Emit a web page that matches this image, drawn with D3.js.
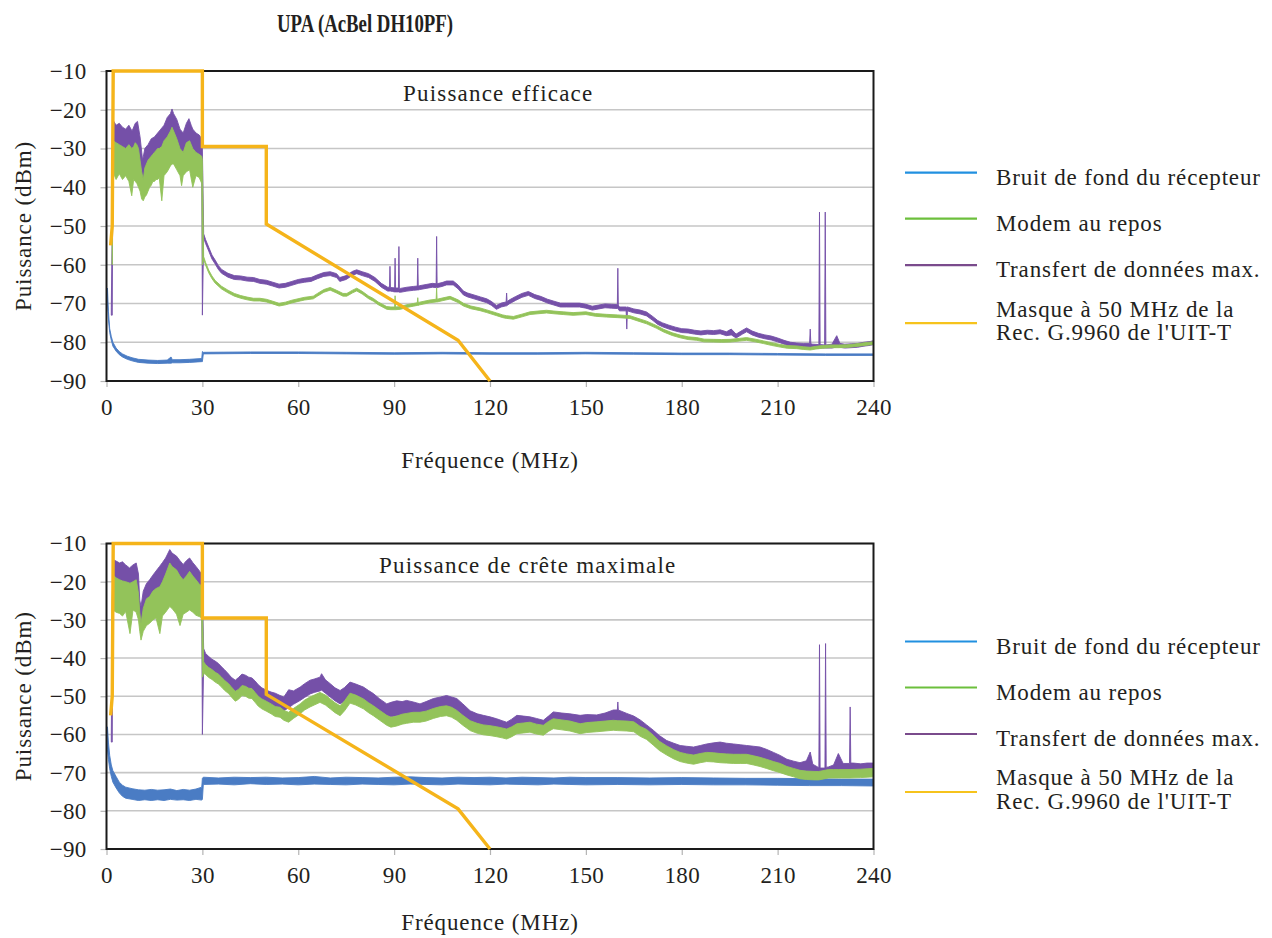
<!DOCTYPE html>
<html>
<head>
<meta charset="utf-8">
<script src="https://cdn.jsdelivr.net/npm/d3@7"></script>
<style>
  body { margin: 0; background: #fff; }
</style>
</head>
<body>
<svg id="chart" width="1272" height="938"></svg>
<script>
// ---- data ----
const xTicks = [0, 30, 60, 90, 120, 150, 180, 210, 240];
const yTicks = [-10, -20, -30, -40, -50, -60, -70, -80, -90];

const chartTitle = 'UPA (AcBel DH10PF)';
const panelTitles = ['Puissance efficace', 'Puissance de crête maximale'];
const xLabel = 'Fréquence (MHz)';
const yLabel = 'Puissance (dBm)';
const legendLabels = [
  ['Bruit de fond du récepteur'],
  ['Modem au repos'],
  ['Transfert de données max.'],
  ['Masque à 50 MHz de la', "Rec. G.9960 de l'UIT-T"]
];

// G.9960 mask: [MHz, dBm]
const mask = [[1.3, -55], [1.8, -50], [2.1, -10], [30, -10], [30, -29.5], [50, -29.5], [50, -49.5], [110, -79.5], [120, -90]];

// traces as [MHz, low dBm, high dBm] (the spread is the visible noise of the trace)
const rmsNoise = [
  [0.3, -70, -66], [0.6, -74, -72], [1, -77.5, -76.5], [1.5, -79.5, -78.5], [2, -81, -80], [3, -82.3, -81.5],
  [4, -83.2, -82.4], [5, -83.8, -83], [6.5, -84.4, -83.6], [8, -84.8, -84], [10, -85.2, -84.4], [13, -85.4, -84.6],
  [16, -85.5, -84.7], [19, -85.4, -84.6], [20.2, -85.4, -83.8], [20.6, -85.3, -84.5], [23, -85.3, -84.5],
  [26, -85.2, -84.4], [29.8, -85, -84.2], [30, -85, -82.4], [30.3, -83, -82.6], [45, -82.9, -82.5], [60, -82.9, -82.5],
  [75, -83, -82.6], [90, -83.1, -82.7], [105, -83, -82.6], [120, -83.1, -82.7], [135, -83.1, -82.7], [150, -83, -82.6],
  [165, -83.1, -82.7], [180, -83.2, -82.8], [195, -83.2, -82.8], [210, -83.3, -82.9], [225, -83.4, -83], [240, -83.4, -83]
];

const rmsIdle = [
  [1.8, -60, -55], [1.95, -45, -28], [2, -36, -28], [3, -38, -28.5], [4, -36.5, -29], [5, -38, -29.5], [6, -37, -30],
  [7, -38.5, -29], [7.9, -42.2, -30], [8.5, -38, -29.5], [9, -38.5, -28.5], [9.5, -39, -29], [10, -40, -30],
  [10.5, -41, -33], [11, -43, -36], [11.5, -43.5, -38], [12, -42.5, -35], [12.5, -42, -34], [13, -41, -33],
  [13.5, -40, -32.5], [14, -39.5, -32], [14.5, -38.5, -31.5], [15, -38.5, -31], [15.5, -38, -30.5], [16, -38, -30],
  [16.5, -37.5, -30], [17.3, -43.5, -29.5], [18, -37, -28], [19, -36, -27], [20, -34.5, -25.5], [20.5, -34, -24.5],
  [21, -34, -25.5], [22, -35.5, -27.5], [23, -37, -30], [23.5, -39.6, -30.5], [24, -37, -31], [25, -36, -28.5],
  [26, -35.5, -28], [27, -40, -30], [28, -37, -31], [29, -37.5, -31.5], [29.8, -39, -32], [30, -60, -33],
  [30.4, -58.6, -57.9], [31, -60.1, -59.4], [32, -62.1, -61.4], [33, -63.6, -62.9], [34, -64.75, -64.05],
  [36, -66.25, -65.55], [38, -67.25, -66.55], [40, -68.1, -67.4], [42, -68.65, -67.95], [44, -69.05, -68.35],
  [46, -69.35, -68.65], [48, -69.35, -68.65], [50, -69.6, -68.9], [52, -70.1, -69.4], [54, -70.65, -69.95],
  [56, -70.35, -69.65], [58, -69.85, -69.15], [60.6, -69.35, -68.65], [62, -69.1, -68.4], [64.7, -68.8, -68.1],
  [66, -68.1, -67.4], [68, -67.1, -66.4], [70, -66.55, -65.85], [72, -67.3, -66.6], [74, -68.1, -67.4],
  [75.2, -68.1, -67.4], [77, -67.25, -66.55], [78.3, -66.75, -66.05], [80, -67.55, -66.85], [82, -68.75, -68.05],
  [83.5, -69.4, -68.7], [85, -70.3, -69.6], [87.7, -71.5, -70.8], [89, -71.6, -70.9], [90.15, -71.6, -70.9],
  [90.3, -71.6, -68], [90.45, -71.6, -70.9], [92, -71.5, -70.8], [94, -71, -70.3], [96, -70.7, -70],
  [97.25, -70.5, -69.8], [97.4, -70.5, -68.5], [97.55, -70.5, -69.8], [98, -70.35, -69.65], [100, -70, -69.3],
  [101.2, -69.8, -69.1], [103.15, -69.6, -68.9], [103.3, -69.6, -66], [103.45, -69.6, -68.9], [105, -69.3, -68.6],
  [107.5, -68.85, -68.15], [110, -69.75, -69.05], [111.7, -70.65, -69.95], [114, -71.35, -70.65],
  [116.9, -71.85, -71.15], [119, -72.35, -71.65], [122.1, -73.15, -72.45], [124, -73.65, -72.95],
  [125.2, -73.85, -73.15], [127.3, -74.05, -73.35], [130, -73.45, -72.75], [132.5, -72.85, -72.15],
  [135, -72.65, -71.95], [137.7, -72.45, -71.75], [140, -72.65, -71.95], [142.9, -72.85, -72.15],
  [146, -73.05, -72.35], [150, -72.85, -72.15], [153, -73.3, -72.6], [156.5, -73.5, -72.8], [160, -73.65, -72.95],
  [163.8, -73.85, -73.15], [166, -74.45, -73.75], [169, -75.25, -74.55], [172, -76.35, -75.65],
  [174.3, -77.35, -76.65], [177, -78.25, -77.55], [179.5, -78.85, -78.15], [182, -79.3, -78.6],
  [184.7, -79.5, -78.8], [187, -79.9, -79.2], [189.9, -79.95, -79.25], [192.5, -80, -79.3], [195.1, -79.95, -79.25],
  [198, -79.7, -79], [200.3, -79.5, -78.8], [203, -79.9, -79.2], [205.6, -80.35, -79.65], [208, -80.8, -80.1],
  [210.8, -81.25, -80.55], [213, -81.55, -80.85], [216, -81.65, -80.95], [218, -81.85, -81.15], [220.2, -82, -81.3],
  [222, -81.75, -81.05], [224, -81.55, -80.85], [226.4, -81.4, -80.7], [229, -81.4, -80.7], [231.6, -81.35, -80.65],
  [234, -81.15, -80.45], [236, -80.95, -80.25], [238, -80.75, -80.05], [240, -80.55, -79.85]
];

const rmsTransfer = [
  [1.5, -73, -71], [1.8, -73, -50], [1.95, -40, -23], [2, -31, -22.6], [3, -30, -24], [4, -31, -23.5],
  [5, -31.5, -24.5], [6, -32, -25], [7, -31, -24], [8, -32.5, -25.5], [9, -30.5, -23.5], [9.7, -30, -23],
  [10.5, -34, -27], [11.3, -40, -33], [12, -37, -30], [13, -36, -29], [14, -34.5, -27.5], [15, -34, -27],
  [16, -33, -26], [17, -32, -25], [18, -31, -24], [19, -29, -22], [20, -28, -21], [20.5, -27, -19.8], [21, -28, -21],
  [22, -29.5, -22.5], [23, -32, -25], [24, -33, -26], [25, -30.5, -23.5], [25.8, -29.5, -22.3], [26.5, -31, -24],
  [27, -32, -25], [28, -33, -26], [29, -33.5, -26.5], [29.8, -34, -27.5], [30, -73, -30], [30.4, -53, -52],
  [31, -54.5, -53.5], [32, -56.5, -55.5], [33, -58.5, -57.5], [34, -59.8, -58.8], [35, -61.2, -60.2],
  [36, -62.2, -61.2], [38, -63.2, -62.2], [40, -63.8, -62.8], [42, -63.9, -62.9], [44, -64.2, -63.2],
  [46, -64.3, -63.3], [48, -64.8, -63.8], [50, -65, -64], [52, -65.5, -64.5], [54, -66, -65], [56, -65.8, -64.8],
  [58, -65.3, -64.3], [60, -64.8, -63.8], [62, -64.5, -63.5], [64, -64.3, -63.3], [66, -63.6, -62.6], [68, -63, -62],
  [70, -62.8, -61.8], [72, -63.3, -62.3], [73, -64.3, -63.3], [75, -63.8, -62.8], [77, -62.7, -61.7],
  [78.3, -62.3, -61.3], [80, -62.8, -61.8], [82, -63.3, -62.3], [84, -64.3, -63.3], [86, -65.8, -64.8],
  [88, -66.8, -65.8], [88.55, -66.8, -65.8], [88.7, -66.8, -60.4], [88.85, -66.8, -65.9], [89.5, -66.9, -65.9],
  [90.15, -67, -66], [90.3, -67, -58.3], [90.45, -67, -66], [91.35, -67, -66], [91.5, -67, -55.3],
  [91.65, -67.1, -66.1], [92, -67.1, -66.1], [94, -66.8, -65.8], [96, -66.6, -65.6], [97.25, -66.5, -65.5],
  [97.4, -66.5, -58.3], [97.55, -66.5, -65.5], [98, -66.4, -65.4], [100, -66.1, -65.1], [102, -65.8, -64.8],
  [103.15, -65.9, -64.9], [103.3, -65.9, -52.7], [103.45, -65.9, -64.9], [105, -65.6, -64.6], [106.4, -65.2, -64.2],
  [108.5, -65.2, -64.2], [110, -66.2, -65.2], [111.7, -67.8, -66.8], [113, -68.3, -67.3], [115, -68.8, -67.8],
  [117, -69.3, -68.3], [119, -69.8, -68.8], [120.5, -70.5, -69.5], [122, -71.5, -70.5], [123.5, -70.9, -69.9],
  [125.05, -70.6, -69.6], [125.2, -70.6, -67.3], [125.35, -70.5, -69.5], [126, -70.1, -69.1], [128, -69.2, -68.2],
  [130, -68.4, -67.4], [132, -67.9, -66.9], [134, -68.7, -67.7], [136, -69.2, -68.2], [138, -69.9, -68.9],
  [140, -70.4, -69.4], [142, -70.9, -69.9], [144, -70.9, -69.9], [146, -70.9, -69.9], [148, -70.9, -69.9],
  [150, -71.2, -70.2], [152, -71.7, -70.7], [154, -71.4, -70.4], [156, -71.1, -70.1], [158, -71.2, -70.2],
  [159.85, -71.3, -70.3], [160, -71.3, -60.9], [160.15, -71.4, -70.4], [160.5, -71.9, -70.9], [162.6, -71.9, -70.9],
  [162.8, -76.6, -71], [163, -71.9, -70.9], [165, -72.4, -71.4], [167, -72.7, -71.7], [169, -73.2, -72.2],
  [171, -74.4, -73.4], [172.5, -75.4, -74.4], [174, -76, -75], [176, -76.6, -75.6], [178, -77.1, -76.1],
  [180, -77.5, -76.5], [182, -77.6, -76.6], [184, -77.9, -76.9], [186, -78.1, -77.1], [188, -77.9, -76.9],
  [190, -78, -77], [192, -77.8, -76.8], [194, -78.3, -77.3], [195.5, -78.1, -76.6], [197, -78.9, -77.9],
  [199, -77.9, -76.9], [200.3, -77.3, -76.3], [202, -78.1, -77.1], [204, -78.7, -77.7], [206, -79.1, -78.1],
  [208, -79.4, -78.4], [210, -79.9, -78.9], [212, -80.5, -79.5], [214, -81, -80], [216, -81.2, -80.2],
  [218, -81.3, -80.3], [220, -81.3, -80.3], [220.2, -81.3, -76.6], [220.4, -81.4, -80.4], [221, -81.5, -80.5],
  [222.9, -81.6, -80.6], [223.1, -81.5, -46.4], [223.3, -81.5, -80.6], [224.7, -81.5, -80.7], [224.9, -81.5, -46.4],
  [225.1, -81.5, -80.7], [227, -81.5, -80.5], [228.5, -81.2, -78.3], [229.5, -81.3, -80.3], [231, -81.5, -80.5],
  [233, -81.4, -80.4], [235, -81.3, -80.3], [237, -81, -80], [239, -80.8, -79.8], [240, -80.6, -79.6]
];

const peakNoise = [
  [0.3, -64, -58], [0.6, -66.5, -62], [1, -69, -65.5], [1.5, -71, -68], [2, -72.5, -69.5], [3, -74, -71],
  [4, -75.3, -72.5], [5, -76.2, -73.3], [6, -76.7, -73.8], [8, -77, -74.2], [10, -77.3, -74.5], [12, -77.1, -74.6],
  [14, -77.3, -74.4], [16, -77.1, -74.6], [18, -77.3, -74.5], [20, -77, -74.3], [22, -77.2, -74.7], [24, -77.1, -74.4],
  [26, -77.3, -74.6], [28, -77, -74.3], [29.8, -77.2, -73.8], [30, -77, -71.5], [30.3, -73.1, -71.2], [35, -73, -71.4],
  [40, -73.2, -71.2], [45, -72.9, -71.3], [50, -73.1, -71.2], [55, -73, -71.4], [60, -73.2, -71.3], [65, -73, -71],
  [70, -73.1, -71.4], [75, -73.2, -71.2], [80, -73, -71.3], [85, -73.1, -71.4], [90, -73.2, -71.2], [95, -73, -71.1],
  [100, -73.1, -71.3], [105, -73.2, -71.4], [110, -73, -71.2], [115, -73.1, -71.3], [120, -73.2, -71.2],
  [125, -73, -71.4], [130, -73.1, -71.2], [135, -73.2, -71.3], [140, -73, -71.4], [145, -73.1, -71.2],
  [150, -73.2, -71.3], [160, -73.1, -71.3], [170, -73.2, -71.4], [180, -73.1, -71.3], [190, -73.2, -71.4],
  [200, -73.2, -71.5], [210, -73.3, -71.5], [220, -73.4, -71.6], [230, -73.4, -71.7], [240, -73.5, -71.7]
];

const peakIdle = [
  [1.8, -40, -25], [2, -27.4, -18.2], [3, -28, -19], [4.1, -28.3, -19.5], [5, -29, -19.8], [6, -27.8, -20],
  [7.35, -33.6, -20.4], [8.3, -27.4, -20], [9.3, -28, -19.5], [10, -30, -23], [10.4, -33, -28], [10.8, -35.3, -30.9],
  [11.5, -33, -27], [12.5, -31.5, -24.5], [13.5, -30.9, -23.9], [14.5, -30, -22.5], [15.5, -29.5, -21.8],
  [16.7, -33.6, -21.3], [17.5, -29, -20], [18.5, -28, -18], [19.8, -26.5, -15.1], [20.5, -27, -16], [21.9, -28.5, -16.9],
  [23, -31.5, -18.5], [24, -28.5, -19.5], [25, -28, -18.5], [26, -27.4, -17.3], [27, -28, -18.5], [28, -28.8, -19.5],
  [29.2, -29.2, -20.8], [29.8, -29.5, -21], [30, -45, -25], [30.4, -44, -41], [31, -44.3, -41.7], [32, -45.1, -42.5],
  [33, -45.6, -43], [34, -46.3, -43.7], [35, -46.8, -44.2], [36, -47.6, -45], [37, -48.5, -45.9], [38.2, -49.3, -46.7],
  [39, -50.1, -47.5], [40.3, -51.3, -48.7], [41.3, -50.8, -48.2], [42.4, -49.8, -47.2], [43.5, -50, -47.4],
  [44.5, -50.5, -47.9], [45.5, -50.6, -48], [46.5, -51.6, -49], [47.5, -52.6, -50], [48.6, -53.3, -50.7],
  [50, -53.9, -51.3], [51.5, -54.6, -52], [52.8, -55.3, -52.7], [54.3, -55.5, -52.9], [55.5, -56.3, -53.7],
  [57, -56.8, -54.2], [58.5, -55.8, -53.2], [60.6, -54.6, -52], [62, -53.6, -51], [63.7, -52.8, -50.2],
  [65, -52.3, -49.7], [66.8, -51.6, -49], [68.5, -52.3, -49.7], [70, -53.3, -50.7], [71.5, -54.3, -51.7],
  [73.1, -55.1, -52.5], [74.5, -53.8, -51.2], [76.2, -51.8, -49.2], [78, -52.3, -49.7], [80.4, -53.3, -50.7],
  [82, -54.3, -51.7], [83.5, -55.1, -52.5], [85.5, -56.3, -53.7], [87.7, -57.6, -55], [89, -58.1, -55.5],
  [90.8, -57.8, -55.2], [92.5, -57.3, -54.7], [93.9, -57.1, -54.5], [96, -56.8, -54.2], [98.1, -56.8, -54.2],
  [100, -56.5, -53.9], [102.3, -55.8, -53.2], [104.5, -55.3, -52.7], [106.4, -55.1, -52.5], [108, -55.5, -52.9],
  [109.6, -56.3, -53.7], [111.5, -57.6, -55], [113.8, -59, -56.4], [116, -59.7, -57.1], [117.9, -60.1, -57.5],
  [120, -60.3, -57.7], [122.1, -60.6, -58], [123.8, -60.9, -58.3], [125.2, -61.2, -58.6], [126.8, -60.6, -58],
  [128.4, -59.8, -57.2], [130.5, -59.6, -57], [132.5, -59.4, -56.8], [134.5, -59.9, -57.3], [136.7, -60.2, -57.6],
  [138.3, -59.2, -56.6], [139.8, -58.5, -55.9], [142.5, -58.8, -56.2], [145, -59.1, -56.5], [148.2, -59.8, -57.2],
  [150.3, -59.5, -56.9], [153.4, -59.3, -56.7], [156, -59.1, -56.5], [158.6, -58.9, -56.3], [160, -59, -56.4],
  [162.8, -59.1, -56.5], [165, -59.3, -56.7], [167, -60.5, -57.9], [169, -61.3, -58.7], [171.1, -62.8, -60.2],
  [173, -64.2, -61.8], [175.3, -65.4, -63], [177.5, -66.4, -64], [179.5, -67.1, -64.7], [181.5, -67.5, -65.1],
  [183.7, -67.8, -65.4], [185.8, -67.4, -65], [187.8, -67.1, -64.7], [190, -67.2, -64.8], [192, -67.4, -65],
  [194, -67.5, -65.1], [196.2, -67.6, -65.2], [198.3, -67.6, -65.2], [200.3, -67.6, -65.2], [202.5, -68, -65.6],
  [204.5, -68.4, -66], [206.5, -68.9, -66.5], [208.7, -69.5, -67.1], [210.8, -70, -67.6], [212.9, -70.6, -68.4],
  [215, -71.1, -68.9], [217, -71.6, -69.4], [219, -71.8, -69.6], [221.7, -71.9, -69.7], [222.9, -71.9, -69.7],
  [225.9, -71.4, -69.2], [227.5, -71.4, -69.2], [229, -71.4, -69.2], [232.7, -71.4, -69.2], [236, -71.3, -69.1],
  [238, -71.2, -69], [240, -71.1, -68.9]
];

const peakTransfer = [
  [1.5, -62, -60], [1.8, -62, -30], [1.95, -30, -14.5], [2, -22, -14.2], [3, -22.5, -14.6], [4.1, -23, -15.1],
  [5, -23, -14.8], [6, -24, -15.6], [7.2, -24.5, -16.4], [8.3, -24, -15.6], [9.3, -23, -15.1], [10, -27, -18],
  [10.4, -31, -24.8], [10.8, -33, -26.5], [11.5, -30, -22.5], [12.5, -28, -20.5], [13.5, -27, -19.5],
  [14.5, -26, -18.3], [15.5, -25, -17.2], [16.6, -24, -16], [17.5, -23, -15], [18.5, -22, -13.8], [19.8, -20, -11.6],
  [20.5, -21, -12.5], [21.9, -22, -13.3], [23, -23, -14.5], [24, -24, -15.5], [25, -23, -14.5], [26, -22, -13.8],
  [27, -23, -15], [28, -24.5, -16], [29.2, -25.5, -17.3], [29.8, -26, -18], [30, -60, -22], [30.4, -42, -37.5],
  [31, -42.3, -38.8], [32, -43.2, -39.6], [33, -43.6, -40.3], [34, -44.3, -40.8], [35, -45, -41.4], [36, -45.7, -42.3],
  [37, -46.8, -43.1], [38.2, -47.6, -44.2], [39, -48.5, -45], [40.3, -49.3, -45.8], [41.3, -48.8, -45.1],
  [42.4, -47.7, -44.2], [43.5, -48.1, -44.5], [44.5, -48.5, -45], [45.5, -48.8, -45.2], [46.5, -49.6, -46],
  [47.5, -50.5, -47], [48.6, -51.4, -47.8], [50, -51.9, -48.4], [51.5, -52.5, -48.9], [52.8, -52.8, -49.2],
  [54.3, -53.3, -49.8], [55.5, -53.8, -50.2], [57, -53, -48.3], [58.5, -52.1, -48.6], [60.6, -51.1, -47.6],
  [62, -50.3, -46.7], [63.7, -49.4, -45.8], [65, -49, -45.5], [66.8, -48.6, -45], [67.3, -48.4, -44.1],
  [68.5, -49.2, -45.7], [70, -50.2, -46.7], [71.5, -51.2, -47.8], [73.1, -52, -48.5], [74.5, -51.3, -47.7],
  [76.2, -49.9, -46.3], [78, -50.3, -46.8], [80.4, -51.1, -47.6], [82, -52, -48.5], [83.5, -52.8, -49.3],
  [85.5, -54.2, -50.7], [87.7, -55.5, -52], [89, -55.4, -51.6], [90.8, -55.1, -51.2], [92.5, -54.9, -51.4],
  [93.9, -54.6, -51.1], [96, -55, -51.5], [98.1, -55.5, -52], [100, -54.9, -51.4], [102.3, -54.1, -50.6],
  [104.5, -53.7, -50.2], [106.4, -53.3, -49.8], [108, -53.7, -50.2], [109.6, -54.1, -50.6], [111.5, -55.5, -52],
  [113.8, -57.2, -53.8], [116, -58, -54.6], [117.9, -58.5, -55], [120, -58.9, -55.4], [122.1, -59.4, -55.9],
  [123.8, -59.9, -56.4], [125.2, -60.3, -56.8], [126.8, -59.5, -56], [128.4, -58.5, -55], [130.5, -58.7, -55.2],
  [132.5, -58.9, -55.4], [134.5, -59.3, -55.8], [136.7, -59.8, -56.3], [138.3, -58.7, -55.2], [139.8, -57.6, -54.1],
  [142.5, -57.9, -54.4], [145, -58.1, -54.6], [148.2, -58.5, -55], [150.3, -58.3, -54.8], [153.4, -58.4, -54.9],
  [156, -57.9, -54.4], [158.6, -57.1, -53.6], [159.85, -57, -53.6], [160, -57, -51.5], [160.15, -57, -53.6],
  [162.8, -58, -54.5], [165, -58.7, -55.2], [167, -59.7, -56.2], [169, -61, -57.5], [171.1, -62.4, -58.9],
  [173, -63.6, -60.3], [175.3, -64.9, -61.6], [177.5, -65.6, -62.3], [179.5, -66.2, -62.9], [181.5, -66.4, -63.1],
  [183.7, -66.6, -63.3], [185.8, -66.2, -62.9], [187.8, -65.8, -62.5], [190, -65.5, -62.2], [192, -65.3, -62],
  [194, -65.6, -62.3], [196.2, -65.8, -62.5], [198.3, -66, -62.7], [200.3, -66.2, -62.9], [202.5, -66.4, -63.1],
  [204.5, -66.6, -63.3], [206.5, -67.2, -63.9], [208.7, -68, -64.7], [210.8, -68.8, -65.5], [212.9, -69.6, -66.5],
  [215, -70.1, -67], [217, -70.5, -67.4], [219, -70.1, -66.9], [220.2, -70, -64.6], [221, -70.9, -67.8],
  [222.9, -71.3, -68.7], [223.1, -71.3, -36.5], [223.3, -71.3, -68.8], [224.8, -71.3, -68.8], [225, -71.3, -36.2],
  [225.2, -71.3, -68.6], [225.9, -71.3, -68.5], [227.5, -71, -68], [229, -70.5, -65], [230.5, -70.8, -67.6],
  [232.5, -70.6, -67.6], [232.7, -70.6, -52.8], [232.9, -70.6, -67.5], [233.7, -70.5, -67.5], [236, -70.7, -67.7],
  [238, -70.5, -67.5], [240, -70.5, -67.5]
];

// ---- styles ----
const serif = '"Liberation Serif", "Times New Roman", serif';
const textColor = '#231f20';
const plotColors = { noise: '#4a7cc4', idle: '#93c35a', transfer: '#7550a8', mask: '#f5b41a' };
const legendColors = ['#2190e0', '#6cbf3c', '#7a4b8c', '#f6c31c'];
const fontSize = 23;

const svg = d3.select('#chart');

function addText(parent) {
  return parent.append('text')
    .style('font-family', serif)
    .style('fill', textColor)
    .attr('font-size', fontSize);
}

addText(svg)
  .attr('x', 365)
  .attr('y', 32)
  .attr('text-anchor', 'middle')
  .attr('font-size', 26)
  .attr('font-weight', 'bold')
  .attr('textLength', 176)
  .attr('lengthAdjust', 'spacingAndGlyphs')
  .text(chartTitle);

const x = d3.scaleLinear().domain([0, 240]).range([106.5, 873.5]);

const panels = [
  { top: 71, bottom: 381, title: panelTitles[0], titleX: 403, legendY: 172.7, xTitleY: 468, noise: rmsNoise, idle: rmsIdle, transfer: rmsTransfer },
  { top: 543.5, bottom: 849, title: panelTitles[1], titleX: 379, legendY: 641.5, xTitleY: 930, noise: peakNoise, idle: peakIdle, transfer: peakTransfer }
];

function drawPanel(p) {
  const y = d3.scaleLinear().domain([-90, -10]).range([p.bottom, p.top]);
  const g = svg.append('g');

  // horizontal grid
  g.append('g')
    .selectAll('line')
    .data(yTicks)
    .join('line')
    .attr('x1', x(0))
    .attr('x2', x(240))
    .attr('y1', d => y(d))
    .attr('y2', d => y(d))
    .attr('stroke', '#c6c6c6')
    .attr('stroke-width', 1.6);

  const yAxis = g.append('g')
    .attr('transform', `translate(${x(0)},0)`)
    .call(d3.axisLeft(y).tickValues(yTicks).tickSize(6).tickPadding(14).tickFormat(d => String(d).replace('-', '\u2212')));
  yAxis.select('.domain').remove();

  const xAxis = g.append('g')
    .attr('transform', `translate(0,${p.bottom})`)
    .call(d3.axisBottom(x).tickValues(xTicks).tickSize(6).tickPadding(12));
  xAxis.select('.domain').remove();

  for (const ax of [yAxis, xAxis]) {
    ax.attr('font-family', null).attr('font-size', fontSize);
    ax.selectAll('line').attr('stroke', '#b4b4b4').attr('stroke-width', 1.2);
    ax.selectAll('text')
      .style('font-family', serif)
      .style('fill', textColor)
      .attr('letter-spacing', 0.3);
  }

  const area = d3.area()
    .x(d => x(d[0]))
    .y0(d => y(d[1]))
    .y1(d => y(d[2]));

  for (const key of ['noise', 'transfer', 'idle']) {
    g.append('path')
      .datum(p[key])
      .attr('d', area)
      .attr('fill', plotColors[key])
      .attr('stroke', plotColors[key])
      .attr('stroke-width', 0.9)
      .attr('stroke-linejoin', 'round');
  }

  // frame
  g.append('rect')
    .attr('x', x(0))
    .attr('y', p.top)
    .attr('width', x(240) - x(0))
    .attr('height', p.bottom - p.top)
    .attr('fill', 'none')
    .attr('stroke', '#1a1a1a')
    .attr('stroke-width', 2);

  g.append('path')
    .datum(mask)
    .attr('d', d3.line().x(d => x(d[0])).y(d => y(d[1])))
    .attr('fill', 'none')
    .attr('stroke', plotColors.mask)
    .attr('stroke-width', 3.4);

  addText(g)
    .attr('x', p.titleX)
    .attr('y', p.top + 29.5)
    .attr('letter-spacing', 1.2)
    .text(p.title);

  addText(g)
    .attr('transform', `translate(31,${(p.top + p.bottom) / 2}) rotate(-90)`)
    .attr('text-anchor', 'middle')
    .attr('letter-spacing', 0.9)
    .text(yLabel);

  addText(g)
    .attr('x', (x(0) + x(240)) / 2)
    .attr('y', p.xTitleY)
    .attr('text-anchor', 'middle')
    .attr('letter-spacing', 0.9)
    .text(xLabel);

  // legend
  const offsets = [0, 46, 92.5, 150.5];
  const leg = g.append('g')
    .selectAll('g')
    .data(legendLabels)
    .join('g')
    .attr('transform', (d, i) => `translate(0,${p.legendY + offsets[i]})`);

  leg.append('line')
    .attr('x1', 905)
    .attr('x2', 977)
    .attr('stroke', (d, i) => legendColors[i])
    .attr('stroke-width', 2.2);

  leg.each(function (d) {
    const t = addText(d3.select(this)).attr('letter-spacing', 0.85);
    d.forEach((line, j) => {
      t.append('tspan')
        .attr('x', 996)
        .attr('y', d.length === 1 ? 12 : j === 0 ? -6.6 : 16.7)
        .text(line);
    });
  });
}

panels.forEach(drawPanel);
</script>
</body>
</html>
